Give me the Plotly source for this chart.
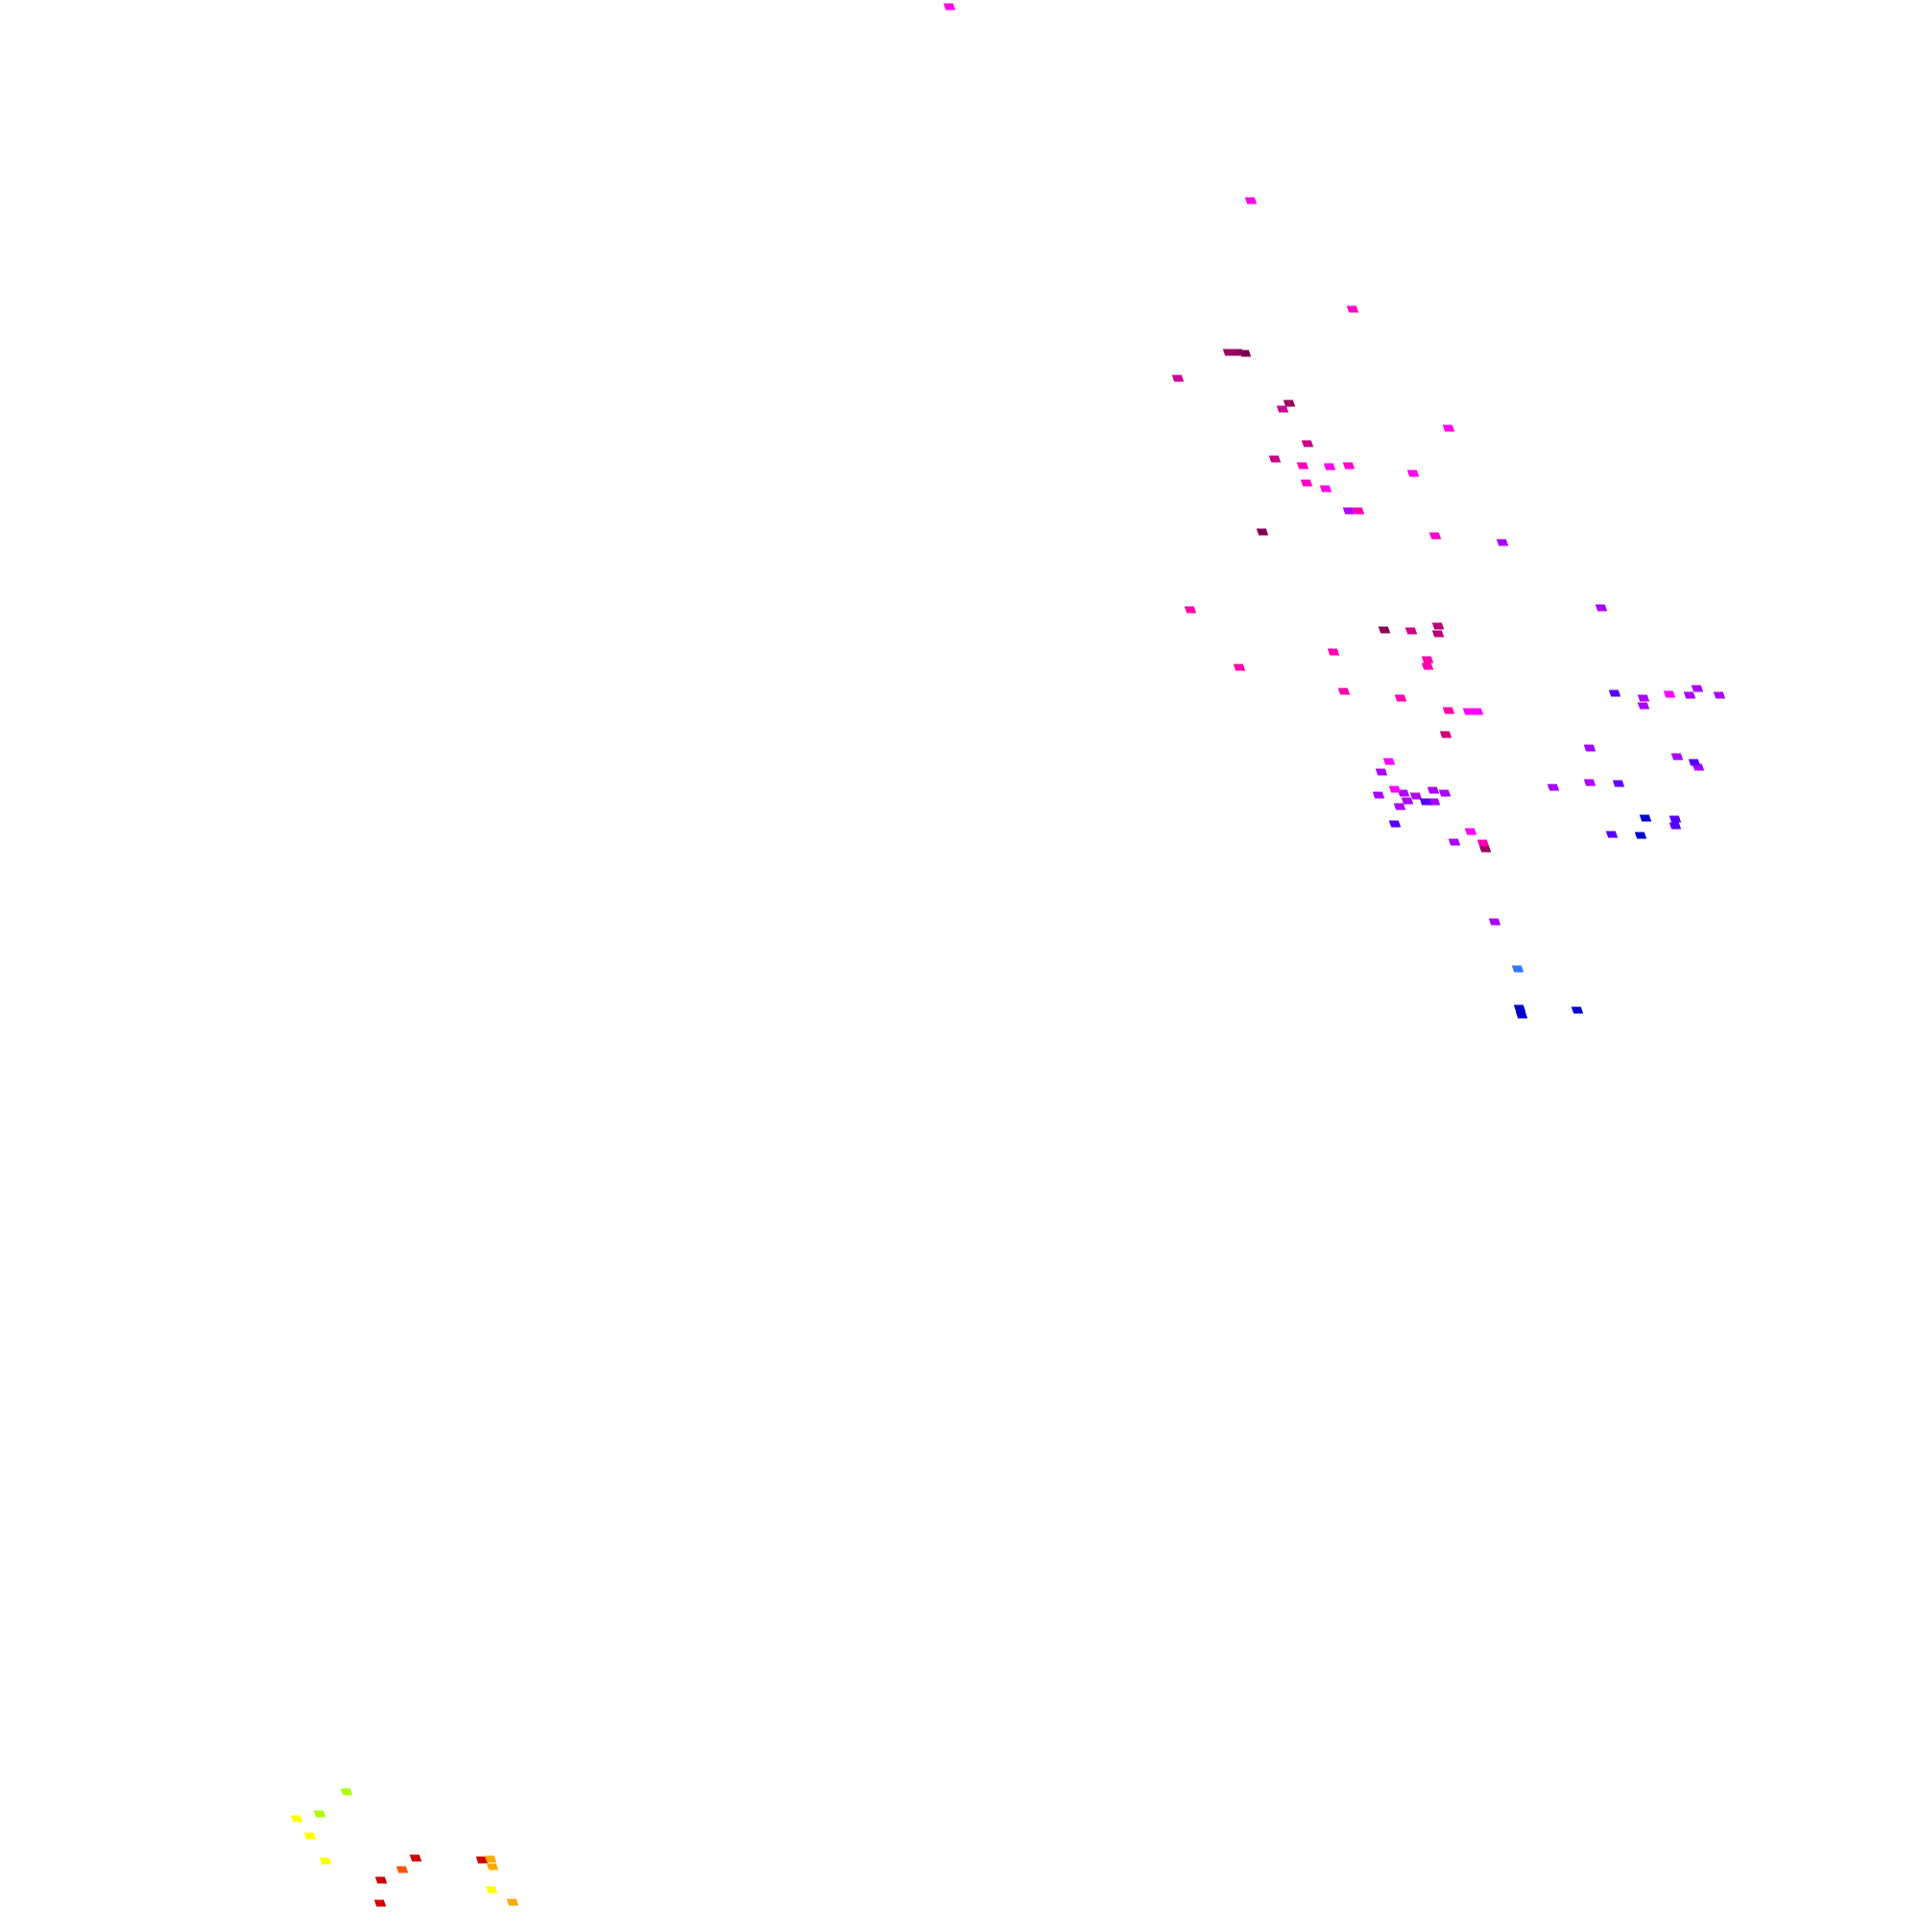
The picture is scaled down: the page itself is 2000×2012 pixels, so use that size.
import plotly.graph_objects as go

# Positions of the marks (horizontal / vertical position) and their colours
pos_x = [989, 1303, 1409, 1280, 1290, 1297, 1227, 1343, 1336, 1509,
         1362, 1328, 1357, 1385, 1405, 1472, 1361, 1381, 1405, 1415,
         1315, 1495, 1565, 1668, 1240, 1442, 1470, 1498, 1498, 1389,
         1291, 1487, 1487, 1400, 1459, 1509, 1530, 1539, 1506, 1682,
         1712, 1712, 1739, 1760, 1768, 1791, 1656, 1747, 1765, 1769,
         1447, 1439, 1618, 1656, 1686, 1453, 1436, 1462, 1475, 1466,
         1458, 1493, 1505, 1485, 1494, 1453, 1714, 1745, 1745, 1679,
         1709, 1532, 1515, 1545, 1547, 1557, 1581, 1583, 1585, 1643,
         361, 333, 309, 323, 339, 433, 419, 397, 396, 502,
         511, 513, 512, 534]
pos_y = [7, 209, 322, 367, 367, 368, 394, 420, 426, 446,
         462, 478, 485, 486, 485, 493, 503, 509, 532, 532,
         554, 558, 565, 633, 635, 656, 657, 652, 660, 679,
         695, 687, 694, 720, 727, 740, 741, 741, 765, 722,
         727, 735, 723, 724, 717, 724, 779, 788, 794, 799,
         793, 804, 820, 815, 816, 822, 828, 826, 829, 834,
         840, 823, 826, 835, 835, 858, 852, 853, 860, 869,
         870, 866, 877, 878, 884, 960, 1009, 1050, 1057, 1052,
         1866, 1889, 1894, 1912, 1938, 1935, 1947, 1958, 1982, 1937,
         1936, 1944, 1968, 1981]
colors = ["#ff00ee", "#ff00ee", "#ff00cc", "#99005f", "#99005f", "#800050", "#cc0099", "#99005f", "#cc0099", "#ff00ee",
          "#cc0088", "#cc0088", "#ff00bb", "#ff00ee", "#ff00cc", "#ff00ee", "#ff00bb", "#ff00ee", "#aa00ff", "#ff00aa",
          "#880055", "#ff00cc", "#aa00ff", "#aa00ff", "#ff00aa", "#880055", "#cc0088", "#bb0077", "#bb0077", "#ff00aa",
          "#ff00aa", "#ff00aa", "#ff00aa", "#ff00aa", "#ff00aa", "#ff00aa", "#ff00ff", "#ff00ff", "#cc0077", "#5500ff",
          "#aa00ff", "#aa00ff", "#ff00ff", "#aa00ff", "#aa00ff", "#aa00ff", "#aa00ff", "#aa00ff", "#5500ff", "#aa00ff",
          "#ff00ff", "#aa00ff", "#aa00ff", "#aa00ff", "#6600ff", "#ff00ff", "#aa00ff", "#aa00ff", "#aa00ff", "#aa00ff",
          "#aa00ff", "#aa00ff", "#aa00ff", "#5500ff", "#aa00ff", "#5500ff", "#0000cc", "#5500ff", "#5500ff", "#5500ff",
          "#0000cc", "#ff00ff", "#aa00ff", "#ff00aa", "#99005f", "#aa00ff", "#3377ff", "#0000cc", "#0000cc", "#0000cc",
          "#aaff00", "#aaff00", "#ffff00", "#ffff00", "#ffff00", "#cc0000", "#ff5500", "#cc0000", "#cc0000", "#cc0000",
          "#ffaa00", "#ffaa00", "#ffff00", "#ffaa00"]

# Mark footprint (style): small, slightly sheared rectangles
HALF_W = 5.0
HALF_H = 3.5
SHEAR = 1.2

fig = go.Figure()

# one filled trace per colour, each made of closed parallelograms around the data points
for col in dict.fromkeys(colors):
    xs, ys = [], []
    for cx, cy, c in zip(pos_x, pos_y, colors):
        if c != col:
            continue
        xs += [cx - HALF_W - SHEAR, cx + HALF_W - SHEAR, cx + HALF_W + SHEAR, cx - HALF_W + SHEAR, cx - HALF_W - SHEAR, None]
        ys += [cy - HALF_H, cy - HALF_H, cy + HALF_H, cy + HALF_H, cy - HALF_H, None]
    fig.add_trace(
        go.Scatter(
            x=xs,
            y=ys,
            mode="lines",
            fill="toself",
            fillcolor=col,
            line=dict(width=0, color=col),
            hoverinfo="skip",
            showlegend=False,
        )
    )

fig.update_layout(
    width=2000,
    height=2012,
    margin=dict(l=0, r=0, t=0, b=0),
    paper_bgcolor="white",
    plot_bgcolor="white",
    xaxis=dict(range=[0, 2000], visible=False, fixedrange=True),
    yaxis=dict(range=[2012, 0], visible=False, fixedrange=True),
)

fig.write_html(
    "out.html",
    config={"displayModeBar": False},
    post_script="document.body.style.margin='0';",
)
